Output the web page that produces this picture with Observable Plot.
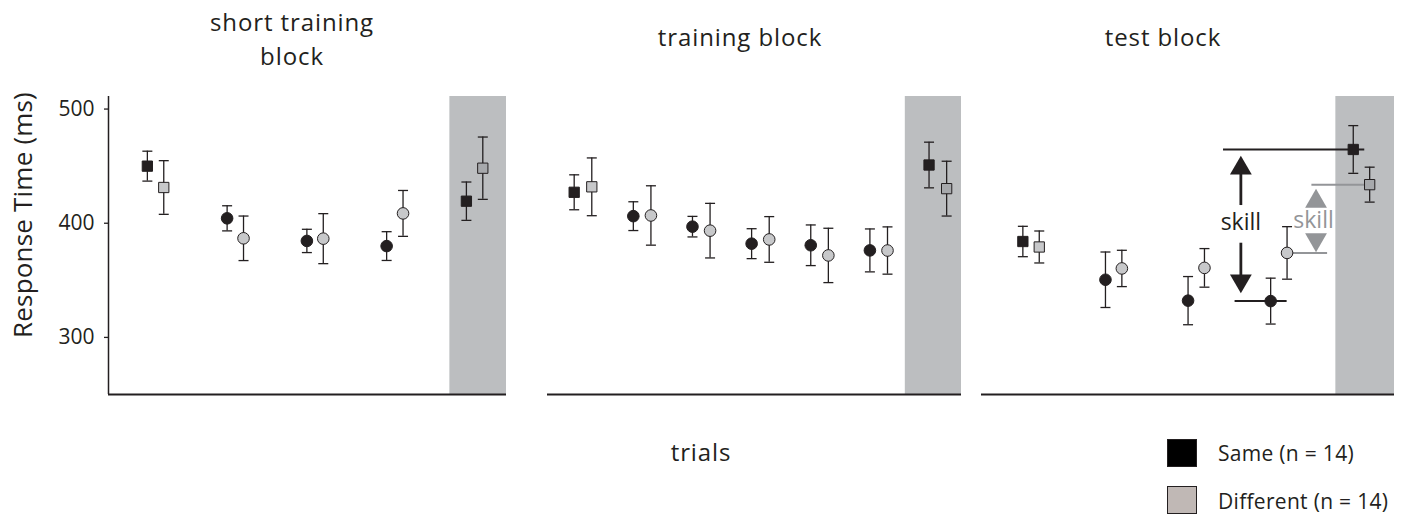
<!DOCTYPE html>
<html>
<head>
<meta charset="utf-8">
<script src="https://cdn.jsdelivr.net/npm/d3@7"></script>
<script src="https://cdn.jsdelivr.net/npm/@observablehq/plot@0.6"></script>
<style>
  body { margin: 0; background: #fff; }
  #chart { position: relative; width: 1406px; height: 514px; overflow: hidden;
           font-family: "Open Sans", sans-serif; color: #231f20; }
  #chart svg { position: absolute; left: 0; top: 0; }
  .t { position: absolute; white-space: nowrap; line-height: 1; }
</style>
</head>
<body>
<div id="chart"></div>
<script>
// ---------------- data ----------------
const panelTitles = [["short training", "block"], ["training block"], ["test block"]];
const seriesNames = ["Same (n = 14)", "Different (n = 14)"];
const xLabel = "trials";
const yLabel = "Response Time (ms)";
const yTicks = [300, 400, 500];

// short training block: 5 trial groups (last one = shaded test trials)
const shortSame    = [450.0, 404.3, 384.5, 380.0, 419.3];
const shortSameErr = [13.1, 11.0, 10.2, 12.6, 16.8];
const shortDiff    = [431.3, 386.8, 386.5, 408.6, 448.2];
const shortDiffErr = [23.5, 19.5, 21.9, 20.1, 27.3];

// training block: 7 trial groups
const trainSame    = [427.1, 406.2, 397.0, 382.1, 380.7, 376.2, 451.0];
const trainSameErr = [15.3, 12.6, 9.0, 13.1, 17.8, 18.8, 20.0];
const trainDiff    = [431.9, 406.8, 393.5, 385.8, 371.8, 376.1, 430.3];
const trainDiffErr = [25.3, 26.0, 23.9, 20.0, 23.8, 20.7, 24.0];

// test block: 5 trial groups
const testSame    = [384.0, 350.5, 332.2, 331.8, 464.6];
const testSameErr = [13.3, 24.3, 21.1, 20.1, 20.9];
const testDiff    = [379.2, 360.4, 360.9, 374.0, 433.8];
const testDiffErr = [14.0, 15.9, 16.9, 23.0, 15.3];

// where the shaded (test-trial) region starts, in trial-group units
const shadeStart = [4.69, 6.45, 4.69];

// "skill" annotation in the test block (x in trial-group units, y in ms)
const skillLines = [
  {s: 0, x1: 3.33, x2: 5.04, y: testSame[4]},
  {s: 0, x1: 3.47, x2: 4.10, y: testSame[3]},
  {s: 1, x1: 4.40, x2: 5.05, y: testDiff[4]},
  {s: 1, x1: 4.16, x2: 4.59, y: testDiff[3]}
];
const skillArrows = [
  {s: 0, x: 3.54, up: 459.3, down: 338.5, label: "skill", labelX: 3.54, labelY: 400.9},
  {s: 1, x: 4.45, up: 430.2, down: 374.6, label: "skill", labelX: 4.42, labelY: 402.4}
];
const skillShafts = [
  {s: 0, x: 3.54, y1: 415.5, y2: 450},
  {s: 0, x: 3.54, y1: 382.5, y2: 348}
];

// ---------------- layout / style ----------------
const ink = "#231f20";
const annColor = ["#231f20", "#939598"];
const yDomain = [250, 511];
const panelLeft = [108, 547, 981];
const panelRight = [506, 961, 1394];
const W = 1406, H = 420, TOP = 96, BOTTOM = 26;

function rowsFor(same, sameErr, diff, diffErr) {
  const n = same.length, rows = [];
  [[same, sameErr], [diff, diffErr]].forEach(([m, e], s) => {
    m.forEach((v, i) => rows.push({
      g: i + 1, s, mean: v, err: e[i],
      square: i === 0 || i === n - 1, test: i === n - 1
    }));
  });
  return rows;
}
const panelRows = [
  rowsFor(shortSame, shortSameErr, shortDiff, shortDiffErr),
  rowsFor(trainSame, trainSameErr, trainDiff, trainDiffErr),
  rowsFor(testSame, testSameErr, testDiff, testDiffErr)
];

const capSymbol = {
  draw(ctx, size) {
    const r = Math.sqrt(size / Math.PI);
    ctx.moveTo(-r, 0);
    ctx.lineTo(r, 0);
  }
};

const chart = document.getElementById("chart");

panelRows.forEach((rows, p) => {
  const n = rows.length / 2;
  const xDomain = [p === 0 ? 0.41 : 0.4, n + 0.4];
  const off = p === 1 ? 8.8 : 8.2;
  const marks = [
    Plot.rect([{x1: shadeStart[p], x2: xDomain[1]}], {
      x1: "x1", x2: "x2", y1: () => yDomain[0], y2: () => yDomain[1], fill: "#bcbec0"
    }),
    Plot.ruleY([yDomain[0]], {stroke: ink, strokeWidth: 1.8})
  ];
  if (p === 0) {
    marks.push(Plot.ruleX([xDomain[0]], {stroke: ink, strokeWidth: 1.5}));
    marks.push(Plot.axisY({
      ticks: yTicks, tickSize: 4, tickPadding: 10, fontSize: 21,
      label: null, stroke: ink, fill: ink, strokeWidth: 1.3
    }));
  }
  if (p === 2) {
    [0, 1].forEach(s => {
      marks.push(Plot.ruleY(skillLines.filter(d => d.s === s), {
        y: "y", x1: "x1", x2: "x2", stroke: annColor[s], strokeWidth: 2
      }));
    });
    marks.push(Plot.ruleX(skillShafts, {x: "x", y1: "y1", y2: "y2", stroke: ink, strokeWidth: 2.8}));
    [0, 1].forEach(s => {
      const a = skillArrows.filter(d => d.s === s);
      marks.push(Plot.dot(a, {x: "x", y: "up", symbol: "triangle", r: 8.1, dy: 12.7,
        fill: annColor[s], stroke: "none"}));
      marks.push(Plot.dot(a, {x: "x", y: "down", symbol: "triangle", r: 8.1, dy: -12.7, rotate: 180,
        fill: annColor[s], stroke: "none"}));
      marks.push(Plot.text(a, {x: "labelX", y: "labelY", text: "label", fill: annColor[s],
        fontSize: 23, textAnchor: "middle", lineAnchor: "middle"}));
    });
  }
  [0, 1].forEach(s => {
    const dx = s === 0 ? -off : off;
    const data = rows.filter(d => d.s === s);
    marks.push(Plot.ruleX(data, {x: "g", y1: d => d.mean - d.err, y2: d => d.mean + d.err,
      dx, stroke: ink, strokeWidth: 1.3}));
    marks.push(Plot.dot(data, {x: "g", y: d => d.mean + d.err, dx, symbol: capSymbol, r: 5,
      stroke: ink, strokeWidth: 1.3, fill: "none"}));
    marks.push(Plot.dot(data, {x: "g", y: d => d.mean - d.err, dx, symbol: capSymbol, r: 5,
      stroke: ink, strokeWidth: 1.3, fill: "none"}));
    const baseFill = s === 0 ? ink : "#c7c8ca";
    const testFill = s === 0 ? ink : "#a7a9ac";
    marks.push(Plot.dot(data.filter(d => !d.square), {x: "g", y: "mean", dx, r: 5.8,
      symbol: "circle", fill: baseFill, stroke: ink, strokeWidth: 1}));
    marks.push(Plot.dot(data.filter(d => d.square && !d.test), {x: "g", y: "mean", dx, r: 5.8,
      symbol: "square", fill: baseFill, stroke: ink, strokeWidth: 1}));
    marks.push(Plot.dot(data.filter(d => d.test), {x: "g", y: "mean", dx, r: 5.8,
      symbol: "square", fill: testFill, stroke: ink, strokeWidth: 1}));
  });

  const svg = Plot.plot({
    width: W, height: H,
    marginLeft: panelLeft[p], marginRight: W - panelRight[p],
    marginTop: TOP, marginBottom: BOTTOM,
    x: {domain: xDomain, axis: null},
    y: {domain: yDomain, axis: null},
    style: {background: "transparent", fontFamily: "'Open Sans', sans-serif", color: ink, overflow: "visible"},
    marks
  });
  chart.appendChild(svg);
});

// ---------------- text: titles, axis labels, legend ----------------
function addText(str, cx, baseline, size, opts = {}) {
  const d = document.createElement("div");
  d.className = "t";
  d.textContent = str;
  d.style.fontSize = size + "px";
  d.style.top = (baseline - 0.888 * size) + "px";
  if (opts.left != null) d.style.left = opts.left + "px";
  else { d.style.left = cx + "px"; d.style.transform = "translateX(-50%)"; }
  if (opts.spacing) d.style.letterSpacing = opts.spacing + "px";
  if (opts.color) d.style.color = opts.color;
  chart.appendChild(d);
  return d;
}
const titleCx = [292, 740, 1163];
addText(panelTitles[0][0], titleCx[0], 31.7, 24, {spacing: 0.9});
addText(panelTitles[0][1], titleCx[0], 65, 24, {spacing: 0.9});
addText(panelTitles[1][0], titleCx[1], 46, 24, {spacing: 0.9});
addText(panelTitles[2][0], titleCx[2], 46, 24, {spacing: 0.9});
addText(xLabel, 701, 461.7, 24, {spacing: 0.9});

const yl = document.createElement("div");
yl.className = "t";
yl.textContent = yLabel;
yl.style.fontSize = "26px";
yl.style.letterSpacing = "0.2px";
yl.style.left = "22px";
yl.style.top = "215px";
yl.style.transform = "translate(-50%, -50%) rotate(-90deg)";
chart.appendChild(yl);

const legendFill = ["#000000", "#c0b8b5"];
const legendTop = [439, 486];
const legendBase = [461.7, 510];
seriesNames.forEach((name, i) => {
  const sw = document.createElement("div");
  sw.style.position = "absolute";
  sw.style.left = "1167px";
  sw.style.top = legendTop[i] + "px";
  sw.style.width = "30px";
  sw.style.height = "28px";
  sw.style.boxSizing = "border-box";
  sw.style.background = legendFill[i];
  sw.style.border = "1.5px solid #231f20";
  chart.appendChild(sw);
  addText(name, 0, legendBase[i], 21, {left: 1218, spacing: 0.3});
});
</script>
</body>
</html>
